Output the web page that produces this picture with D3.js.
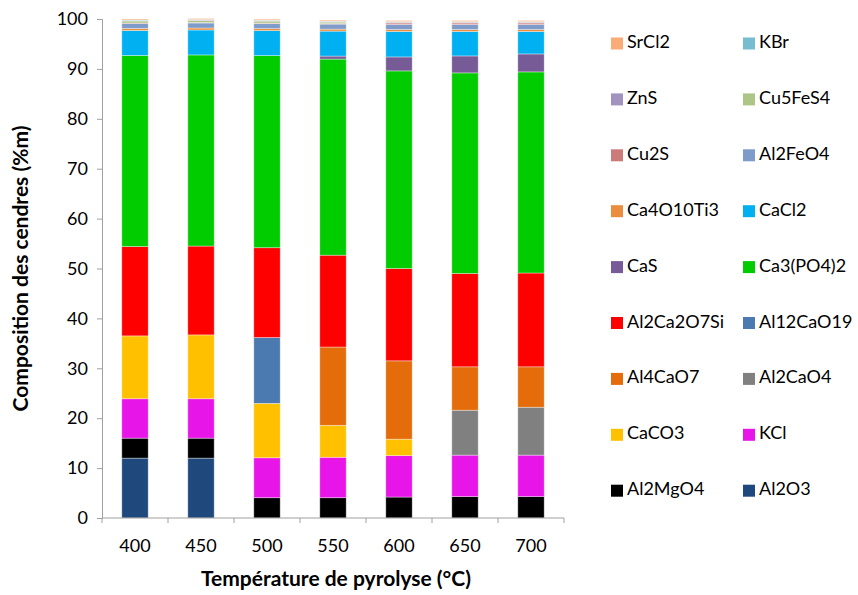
<!DOCTYPE html>
<html>
<head>
<meta charset="utf-8">
<script src="https://cdn.jsdelivr.net/npm/d3@7"></script>
<style>
  html, body { margin: 0; padding: 0; background: #ffffff; }
  svg { display: block; }
  text { font-family: Lato, "Open Sans", sans-serif; fill: #000; }
</style>
</head>
<body>
<svg id="chart" width="858" height="595"></svg>
<script>
// ---- Data ----
const temperatures = ["400", "450", "500", "550", "600", "650", "700"];
const yTicks = [0, 10, 20, 30, 40, 50, 60, 70, 80, 90, 100];

// series in stacking order (bottom to top)
const seriesNames = ["Al2O3", "Al2MgO4", "KCl", "CaCO3", "Al2CaO4", "Al4CaO7", "Al12CaO19",
  "Al2Ca2O7Si", "Ca3(PO4)2", "CaS", "CaCl2", "Ca4O10Ti3", "Al2FeO4", "Cu2S", "Cu5FeS4",
  "ZnS", "KBr", "SrCl2"];

const Al2O3      = [12.0, 12.0, 0, 0, 0, 0, 0];
const Al2MgO4    = [4.0, 4.0, 4.07, 4.07, 4.2, 4.3, 4.3];
const KCl        = [7.9, 7.9, 8.0, 8.1, 8.3, 8.3, 8.3];
const CaCO3      = [12.6, 12.8, 10.9, 6.4, 3.3, 0, 0];
const Al2CaO4    = [0, 0, 0, 0, 0, 9.0, 9.6];
const Al4CaO7    = [0, 0, 0, 15.7, 15.7, 8.7, 8.1];
const Al12CaO19  = [0, 0, 13.2, 0, 0, 0, 0];
const Al2Ca2O7Si = [17.9, 17.8, 18.0, 18.4, 18.5, 18.7, 18.8];
const Ca3PO42    = [38.3, 38.3, 38.5, 39.3, 39.6, 40.2, 40.3];
const CaS        = [0, 0, 0, 0.6, 2.8, 3.4, 3.6];
const CaCl2      = [5.0, 5.0, 5.0, 5.0, 5.1, 4.9, 4.5];
const Ca4O10Ti3  = [0.4, 0.4, 0.4, 0.4, 0.4, 0.4, 0.4];
const Al2FeO4    = [1.0, 1.0, 1.0, 1.0, 1.0, 1.0, 1.0];
const Cu2S       = [0.1, 0.1, 0.1, 0.1, 0.3, 0.3, 0.3];
const Cu5FeS4    = [0.4, 0.4, 0.4, 0.3, 0.1, 0.1, 0.1];
const ZnS        = [0.1, 0.1, 0.1, 0.1, 0.1, 0.1, 0.1];
const KBr        = [0.1, 0.1, 0.1, 0.1, 0.1, 0.1, 0.1];
const SrCl2      = [0.2, 0.2, 0.2, 0.2, 0.2, 0.2, 0.2];

const seriesValues = [Al2O3, Al2MgO4, KCl, CaCO3, Al2CaO4, Al4CaO7, Al12CaO19,
  Al2Ca2O7Si, Ca3PO42, CaS, CaCl2, Ca4O10Ti3, Al2FeO4, Cu2S, Cu5FeS4, ZnS, KBr, SrCl2];

const seriesColors = ["#1F497D", "#000000", "#E815E8", "#FFC000", "#808080", "#E46C0A", "#4A7AB0",
  "#FF0000", "#00CC00", "#775B97", "#00B0F0", "#EB8D3E", "#7F9BC9", "#CD7B7A", "#ADC686",
  "#A192BF", "#78BCD0", "#FAAB78"];

const xTitle = "Température de pyrolyse (°C)";
const yTitle = "Composition des cendres (%m)";

// ---- Build table ----
const table = temperatures.map((t, i) => {
  const row = { temp: t };
  seriesNames.forEach((s, j) => { row[s] = seriesValues[j][i]; });
  return row;
});

const svg = d3.select("#chart");
const plot = { left: 102, right: 564, top: 19, bottom: 518 };

const x = d3.scaleBand().domain(temperatures).range([plot.left, plot.right]).paddingInner(0.6).paddingOuter(0.3);
const y = d3.scaleLinear().domain([0, 100]).range([plot.bottom, plot.top]);
const color = d3.scaleOrdinal().domain(seriesNames).range(seriesColors);

const stack = d3.stack().keys(seriesNames)(table);

// bars
svg.append("g").selectAll("g").data(stack).join("g")
  .attr("fill", d => color(d.key))
  .selectAll("rect").data(d => d).join("rect")
  .attr("x", d => x(d.data.temp))
  .attr("width", x.bandwidth())
  .attr("y", d => y(d[1]))
  .attr("height", d => Math.max(0, y(d[0]) - y(d[1])))
  .attr("stroke", "rgba(255,255,255,0.45)")
  .attr("stroke-width", 0.8);

// y axis
const yAxis = svg.append("g").attr("transform", `translate(${plot.left},0)`)
  .call(d3.axisLeft(y).tickValues(yTicks).tickSize(5).tickPadding(9));
yAxis.select(".domain").attr("stroke", "#A0A0A0");
yAxis.selectAll(".tick line").attr("stroke", "#A0A0A0");
yAxis.selectAll(".tick text").attr("font-size", "18px").attr("font-family", "Lato, sans-serif").attr("fill", "#000");

// x axis
const xAxis = svg.append("g").attr("transform", `translate(0,${plot.bottom})`)
  .call(d3.axisBottom(x).tickSize(0).tickPadding(21));
xAxis.select(".domain").attr("stroke", "#A0A0A0").attr("d", `M${plot.left},0H${plot.right}`);
xAxis.selectAll(".tick text").attr("font-size", "18px").attr("font-family", "Lato, sans-serif").attr("fill", "#000");
// boundary ticks between categories
const boundaries = d3.range(temperatures.length + 1).map(i => plot.left + i * (plot.right - plot.left) / temperatures.length);
xAxis.selectAll("line.bt").data(boundaries).join("line").attr("class", "bt")
  .attr("x1", d => d).attr("x2", d => d).attr("y1", 0).attr("y2", 5)
  .attr("stroke", "#A0A0A0");

// titles
svg.append("text")
  .attr("transform", `translate(23,${(plot.top + plot.bottom) / 2}) rotate(-90)`)
  .attr("text-anchor", "middle").attr("dominant-baseline", "middle")
  .attr("font-size", "21px").attr("font-weight", "bold")
  .text(yTitle);

svg.append("text")
  .attr("x", 336).attr("y", 581)
  .attr("text-anchor", "middle").attr("dominant-baseline", "middle")
  .attr("font-size", "21px").attr("font-weight", "bold")
  .text(xTitle);

// legend (reverse of stacking order, two columns)
const legendItems = seriesNames.slice().reverse();
const legend = svg.append("g");
const lg = legend.selectAll("g").data(legendItems).join("g")
  .attr("transform", (d, i) => `translate(${i % 2 === 0 ? 611 : 743},${43.5 + Math.floor(i / 2) * 55.9})`);
lg.append("rect").attr("x", 0).attr("y", -6).attr("width", 12).attr("height", 12)
  .attr("fill", d => color(d));
lg.append("text").attr("x", 16).attr("y", 0).attr("dominant-baseline", "middle")
  .attr("font-size", "18px").text(d => d);
</script>
</body>
</html>
